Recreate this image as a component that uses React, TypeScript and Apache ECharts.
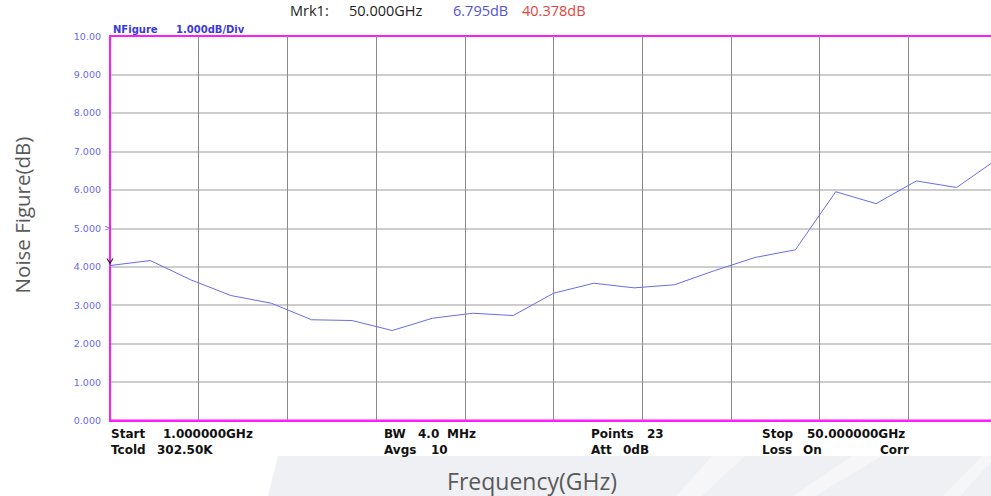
import React, { useEffect, useRef } from "react";
import * as echarts from "echarts";

// Sweep points (GHz): Start 1 GHz, Stop 50 GHz, 23 points
const FREQ_GHZ = [
  1.0, 3.227, 5.455, 7.682, 9.909, 12.136, 14.364, 16.591, 18.818, 21.045, 23.273, 25.5,
  27.727, 29.955, 32.182, 34.409, 36.636, 38.864, 41.091, 43.318, 45.545, 47.773, 50.0,
];
// Measured noise figure (dB)
const NF_DB = [
  4.03, 4.16, 3.66, 3.25, 3.05, 2.62, 2.6, 2.34, 2.66, 2.79, 2.73, 3.31,
  3.57, 3.45, 3.53, 3.9, 4.24, 4.44, 5.95, 5.64, 6.23, 6.06, 6.795,
];
const Y_TICKS = [0, 1, 2, 3, 4, 5, 6, 7, 8, 9, 10];
const MARKER_TEXT = ["Mrk1:", "50.000GHz", "6.795dB", "40.378dB"];
const SCALE_TEXT = ["NFigure", "1.000dB/Div"];
const INFO_ROW1 = ["Start", "1.000000GHz", "BW", "4.0", "MHz", "Points", "23", "Stop", "50.000000GHz"];
const INFO_ROW2 = ["Tcold", "302.50K", "Avgs", "10", "Att", "0dB", "Loss", "On", "Corr"];

export default function App() {
  const ref = useRef<HTMLDivElement>(null);

  useEffect(() => {
    if (!ref.current) return;
    const chart = echarts.init(ref.current, undefined, { renderer: "svg" });
    const magenta = "#ff1aff";
    const option: any = {
      animation: false,
      backgroundColor: "#ffffff",
      grid: {
        left: 110,
        width: 887,
        top: 36,
        bottom: 75.5,
        outerBoundsMode: "none",
        containLabel: false,
        show: true,
        borderColor: magenta,
        borderWidth: 2,
        backgroundColor: "transparent",
      },
      xAxis: [
        {
          type: "value",
          min: FREQ_GHZ[0],
          max: FREQ_GHZ[FREQ_GHZ.length - 1],
          position: "bottom",
          axisLine: { show: true, lineStyle: { color: magenta, width: 2 } },
          axisTick: { show: false },
          axisLabel: { show: false },
          splitLine: { show: false },
        },
        {
          type: "value",
          min: 0,
          max: 10,
          interval: 1,
          position: "top",
          axisLine: { show: false },
          axisTick: { show: false },
          axisLabel: { show: false },
          splitLine: {
            show: true,
            showMinLine: false,
            showMaxLine: false,
            lineStyle: { color: "#8a8a8a", width: 1 },
          },
        },
      ],
      yAxis: {
        type: "value",
        min: Y_TICKS[0],
        max: Y_TICKS[Y_TICKS.length - 1],
        interval: 1,
        axisLine: { show: true, lineStyle: { color: magenta, width: 2 } },
        axisTick: { show: false },
        axisLabel: {
          color: "#6a6ae6",
          fontSize: 9.5,
          fontFamily: "DejaVu Sans",
          margin: 9,
          formatter: (v: number) => (v === 10 ? "10.00" : v.toFixed(3)),
        },
        splitLine: {
          show: true,
          showMinLine: false,
          showMaxLine: false,
          lineStyle: { color: "#bdbdbd", width: 1.5 },
        },
      },
      series: [
        {
          type: "line",
          xAxisIndex: 0,
          yAxisIndex: 0,
          data: FREQ_GHZ.map((f, i) => [f, NF_DB[i]]),
          symbol: "none",
          lineStyle: { color: "#6b6be8", width: 1 },
          markPoint: {
            symbol: "path://M0,0 L5,7 L10,0 L8.3,0 L5,4.6 L1.7,0 Z",
            symbolSize: [7, 6],
            symbolOffset: [0, -4],
            itemStyle: { color: "#111111" },
            label: { show: false },
            data: [{ coord: [FREQ_GHZ[0], NF_DB[0]] }],
          },
        },
      ],
    };
    chart.setOption(option);

    const y5 = chart.convertToPixel({ yAxisIndex: 0 }, 5) as number;
    const bold = { fontFamily: "DejaVu Sans", fontWeight: "bold", fontSize: 12, fill: "#111111" };
    const t = (x: number, y: number, text: string, style: any = {}) => ({
      type: "text",
      x,
      y,
      style: { text, verticalAlign: "middle", ...bold, ...style },
    });
    const title = { fontFamily: "Open Sans", fontWeight: "normal", fill: "#595959" };
    const hdr = { fontFamily: "Open Sans", fontWeight: "normal", fontSize: 14.5, fill: "#222222" };
    const nfs = { fontFamily: "DejaVu Sans", fontWeight: "bold", fontSize: 10, fill: "#3a3ad8" };

    chart.setOption({
      graphic: [
        {
          type: "polygon",
          z: -10,
          shape: { points: [[278, 456], [991, 456], [991, 496], [268, 496]] },
          style: { fill: "#eff0f4" },
        },
        {
          type: "polygon",
          z: -9,
          shape: { points: [[712, 456], [745, 456], [702, 496], [676, 496]] },
          style: { fill: "#f6f6f8" },
        },
        {
          type: "polygon",
          z: -9,
          shape: { points: [[852, 456], [882, 456], [815, 496], [793, 496]] },
          style: { fill: "#f6f6f8" },
        },
        {
          type: "polygon",
          z: -9,
          shape: { points: [[982, 456], [991, 456], [991, 462], [960, 496], [943, 496]] },
          style: { fill: "#f6f6f8" },
        },
        t(290, 10, MARKER_TEXT[0], hdr),
        t(349, 10, MARKER_TEXT[1], hdr),
        t(453, 10, MARKER_TEXT[2], { ...hdr, fill: "#5252d6" }),
        t(522, 10, MARKER_TEXT[3], { ...hdr, fill: "#e2453d" }),
        t(113, 29, SCALE_TEXT[0], nfs),
        t(176, 29, SCALE_TEXT[1], nfs),
        t(104, y5, ">", { fontFamily: "DejaVu Sans", fontWeight: "normal", fontSize: 8, fill: "#6a6ae6" }),
        t(111, 434, INFO_ROW1[0]),
        t(163, 434, INFO_ROW1[1]),
        t(384, 434, INFO_ROW1[2]),
        t(418, 434, INFO_ROW1[3]),
        t(447, 434, INFO_ROW1[4]),
        t(591, 434, INFO_ROW1[5]),
        t(647, 434, INFO_ROW1[6]),
        t(762, 434, INFO_ROW1[7]),
        t(807, 434, INFO_ROW1[8]),
        t(111, 449.5, INFO_ROW2[0]),
        t(157, 449.5, INFO_ROW2[1]),
        t(384, 449.5, INFO_ROW2[2]),
        t(431, 449.5, INFO_ROW2[3]),
        t(591, 449.5, INFO_ROW2[4]),
        t(623, 449.5, INFO_ROW2[5]),
        t(762, 449.5, INFO_ROW2[6]),
        t(803, 449.5, INFO_ROW2[7]),
        t(880, 449.5, INFO_ROW2[8]),
        {
          type: "text",
          x: 532,
          y: 481,
          style: { text: "Frequency(GHz)", align: "center", verticalAlign: "middle", fontSize: 23, ...title },
        },
        {
          type: "text",
          x: 22,
          y: 215,
          rotation: Math.PI / 2,
          style: { text: "Noise Figure(dB)", align: "center", verticalAlign: "middle", fontSize: 20.5, ...title },
        },
      ],
    });

    return () => chart.dispose();
  }, []);

  return (
    <div
      ref={ref}
      style={{ position: "absolute", left: 0, top: 0, width: 991, height: 496 }}
    />
  );
}
